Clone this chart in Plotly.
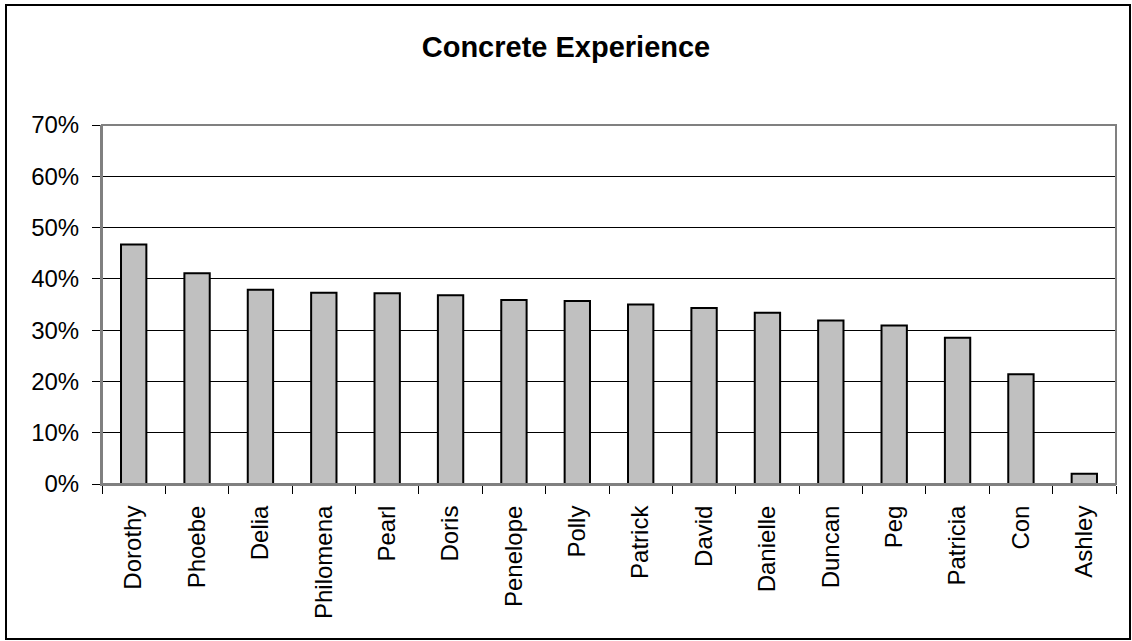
import plotly.graph_objects as go

names = ["Dorothy", "Phoebe", "Delia", "Philomena", "Pearl", "Doris", "Penelope",
         "Polly", "Patrick", "David", "Danielle", "Duncan", "Peg", "Patricia", "Con", "Ashley"]
values = [0.467, 0.411, 0.379, 0.373, 0.372, 0.368, 0.359,
          0.357, 0.350, 0.343, 0.334, 0.319, 0.309, 0.285, 0.214, 0.020]
y_ticks = [0, 0.1, 0.2, 0.3, 0.4, 0.5, 0.6, 0.7]

W, H = 1132, 641
L, R, T, B = 102, 16, 125, 157

fig = go.Figure(go.Bar(
    x=names, y=values, width=0.4,
    marker=dict(color="#C0C0C0", line=dict(color="black", width=2)),
))

font_family = "Liberation Sans, Arial, sans-serif"
fig.update_layout(
    width=W, height=H,
    margin=dict(l=L, r=R, t=T, b=B, pad=0),
    paper_bgcolor="white", plot_bgcolor="white",
    showlegend=False,
    font=dict(family=font_family, color="black", size=24),
    title=dict(text="<b>Concrete Experience</b>", x=0.5, xanchor="center",
               y=1 - 47 / H, yanchor="middle", yref="container",
               font=dict(size=29, family=font_family, color="black")),
    xaxis=dict(type="category", tickson="boundaries", ticks="outside", ticklen=8,
               tickcolor="black", tickangle=-90, showgrid=False,
               showline=True, linecolor="#808080", linewidth=2,
               tickfont=dict(size=24), ticklabelstandoff=10),
    yaxis=dict(range=[0, 0.7], tickvals=y_ticks, tickformat=".0%",
               ticks="outside", ticklen=8, tickcolor="black",
               showgrid=True, gridcolor="black", gridwidth=1,
               showline=True, linecolor="#808080", linewidth=2,
               zeroline=False, tickfont=dict(size=24), ticklabelstandoff=8),
    bargap=0.6,
)

# plot area frame (top & right in gray)
fig.add_shape(type="rect", xref="paper", yref="paper", x0=0, x1=1, y0=0, y1=1,
              line=dict(color="#808080", width=2), layer="above")
# outer chart border (pixel positions converted to paper coordinates)
pw, ph = W - L - R, H - T - B
bx0, bx1, by0, by1 = 6, 1130, 5, 639
fig.add_shape(type="rect", xref="paper", yref="paper",
              x0=(bx0 - L) / pw, x1=(bx1 - L) / pw,
              y0=(H - B - by1) / ph, y1=(H - B - by0) / ph,
              line=dict(color="black", width=2))

fig.write_html("out.html", config={"displayModeBar": False},
               post_script="document.body.style.margin='0';document.body.style.overflow='hidden';")
